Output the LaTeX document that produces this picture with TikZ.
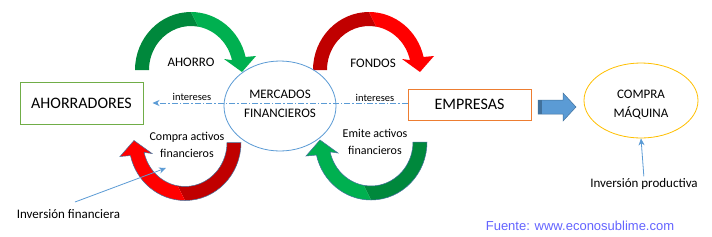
\documentclass[tikz,border=0pt]{standalone}
\usepackage{fontspec}
\setmainfont{Carlito}
\newfontfamily\arialf{Liberation Sans}
\usetikzlibrary{arrows.meta,shapes.geometric}
\definecolor{dkgreen}{HTML}{00883C}
\definecolor{ltgreen}{HTML}{00B050}
\definecolor{dkred}{HTML}{C00000}
\definecolor{ltred}{HTML}{FF0000}
\definecolor{lblue}{HTML}{5B9BD5}
\definecolor{oblue}{HTML}{41719C}
\definecolor{boxgreen}{HTML}{70AD47}
\definecolor{boxorange}{HTML}{ED7D31}
\definecolor{gold}{HTML}{FFC000}
\definecolor{srcblue}{HTML}{6464FF}
\tikzset{
  pics/curvarrow/.style n args={3}{code={
    \fill[#1] (180:56 and 58) arc[start angle=180,end angle=90,x radius=56,y radius=58]
      -- (80:42 and 44) arc[start angle=80,end angle=180,x radius=42,y radius=44] -- cycle;
    \fill[#2] (90:56 and 58) arc[start angle=90,end angle=13,x radius=56,y radius=58]
      -- (65,14) -- (51,-2) -- (33,11) -- (13:42 and 44)
      arc[start angle=13,end angle=80,x radius=42,y radius=44] -- cycle;
    \draw[#3] (180:56 and 58) arc[start angle=180,end angle=13,x radius=56,y radius=58]
      -- (65,14) -- (51,-2) -- (33,11) -- (13:42 and 44)
      arc[start angle=13,end angle=180,x radius=42,y radius=44] -- cycle;
  }},
  bigbox/.style={draw, line width=1pt, inner sep=0pt, font=\fontsize{16}{19}\selectfont},
  oval/.style={draw, ellipse, line width=0.8pt, inner sep=0pt},
  lbl/.style={inner sep=0pt, font=\fontsize{13}{19}\selectfont, align=center},
  smalllbl/.style={inner sep=0pt, font=\fontsize{10.5}{12}\selectfont},
  midlbl/.style={inner sep=0pt, font=\fontsize{12}{17}\selectfont, align=center},
  conn/.style={lblue, line width=0.8pt, -{Stealth[length=7pt,width=6pt]}},
}
\begin{document}
\begin{tikzpicture}[x=1pt,y=1pt]
\fill[white] (0,0) rectangle (712,-236);
\useasboundingbox (0,0) rectangle (712,-236);

% curved arrows
\pic at (191,-70) {curvarrow={dkgreen}{ltgreen}{draw=none}};
\pic at (369,-70) {curvarrow={dkred}{ltred}{draw=none}};
\pic[rotate=180] at (185,-142.5) {curvarrow={dkred}{ltred}{oblue,line width=0.5pt}};
\pic[rotate=180] at (371,-142) {curvarrow={dkgreen}{ltgreen}{oblue,line width=0.5pt}};

% boxes
\node[bigbox, draw=boxgreen, minimum width=123pt, minimum height=42pt] (ahr) at (81.5,-103) {AHORRADORES};
\node[bigbox, draw=boxorange, minimum width=123pt, minimum height=31pt] (emp) at (469.5,-104.5) {EMPRESAS};

% ellipses
\node[oval, draw=lblue, minimum width=112pt, minimum height=90pt] (mf) at (280,-106) {};
\node[lbl] (mft) at (280,-103.5) {MERCADOS\\FINANCIEROS};
\node[oval, draw=gold, minimum width=114pt, minimum height=75pt] (cm) at (641,-100.5) {};
\node[lbl] (cmt) at (641,-104.5) {COMPRA\\MÁQUINA};

% labels
\node[lbl] (ahorro) at (191,-62) {AHORRO};
\node[lbl] (fondos) at (373,-63) {FONDOS};
\node[smalllbl] (int1) at (192,-97) {intereses};
\node[smalllbl] (int2) at (375,-97.5) {intereses};
\node[midlbl] (cpa) at (187,-144.5) {Compra activos\\financieros};
\node[midlbl] (ema) at (375,-141.5) {Emite activos\\financieros};
\node[lbl] (invf) at (68.5,-214) {Inversión financiera};
\node[lbl] (invp) at (644,-184) {Inversión productiva};
\node[inner sep=0pt, text=srcblue, font=\arialf\fontsize{13}{15}\selectfont] (src) at (580,-226) {Fuente: www.econosublime.com};

% interest line
\draw[conn, dash pattern=on 6pt off 2pt on 1.5pt off 2pt, shorten >=9pt] (emp.west |- ahr.east) -- (ahr.east);

% block arrow
\draw[fill=lblue, draw=oblue, line width=0.5pt] (538,-100) -- (563,-100) -- (563,-93) -- (576,-107) -- (563,-121) -- (563,-114) -- (538,-114) -- cycle;
\fill[oblue] (538.3,-100.3) rectangle (542,-113.7);

% annotation arrows
\coordinate (ifstart) at (75,-202);
\coordinate (iftip) at (166,-168);
\draw[conn] (ifstart) -- (iftip);
\draw[conn, shorten <=2pt] (invp.north) -- (cm.south);
\end{tikzpicture}
\end{document}
